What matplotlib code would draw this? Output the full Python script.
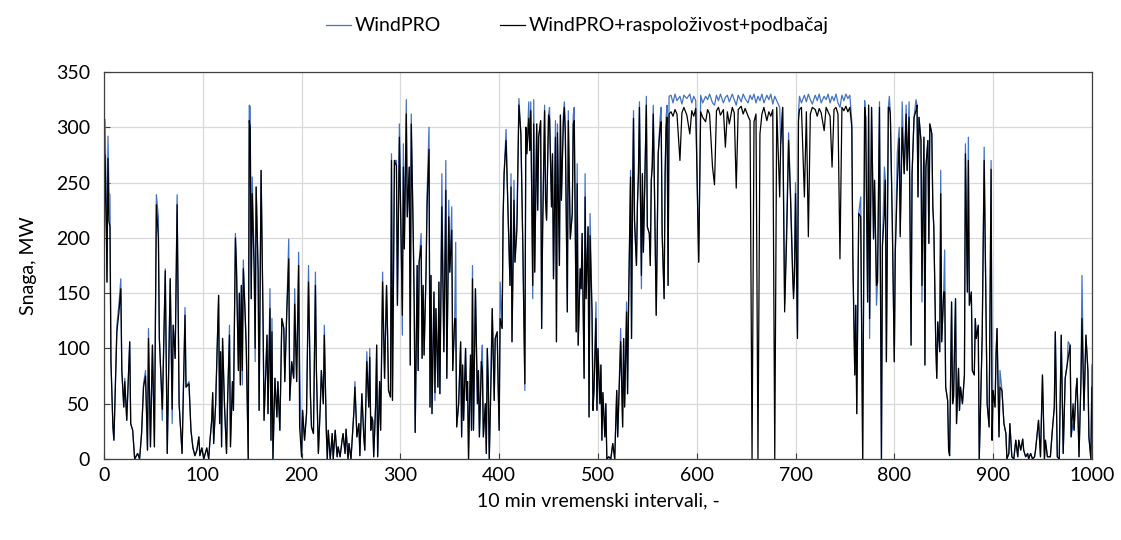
import matplotlib
matplotlib.use("Agg")
import matplotlib.pyplot as plt

# ------------------- DATA ------------------- #
# 10-min interval index
t = [
    # 0-99
    0, 1, 2, 3, 4, 5, 6, 7, 9, 10, 13, 15, 17, 18, 20, 21, 23, 26, 27, 29,
    31, 34, 36, 38, 40, 42, 44, 45, 47, 49, 51, 53, 55, 56, 58, 59, 62, 64, 67, 69,
    70, 72, 74, 76, 79, 82, 83, 86, 88, 90, 92, 94, 96, 97, 99,
    # 100-199
    101, 104, 106, 107, 109, 110, 111, 113, 116, 117, 118, 119, 120,
    122, 124, 125, 127, 128, 130, 131, 133, 134, 136, 137, 138, 139, 140, 141,
    143, 144, 146, 147, 148, 149, 150, 152, 153, 154, 156, 157, 159,
    161, 162, 165, 166, 168, 169, 170, 171, 173, 175, 176, 178, 180, 182, 183,
    185, 187, 188, 190, 192, 193, 195, 197, 198,
    # 200-299
    200, 201, 203, 205, 207, 209, 210, 212, 214, 215, 217, 219, 220, 222, 223,
    225, 226, 227, 229, 231, 232, 234, 236, 237, 239, 241, 242, 244, 245,
    247, 248, 250, 253, 254, 256, 258, 259, 261, 263, 264, 266, 268, 269, 270,
    271, 272, 273, 275, 276, 277, 279, 280, 282, 284, 286, 287, 288, 290, 291, 292,
    294, 296, 297, 299,
    # 300-400
    301, 302, 303, 304, 306, 307, 309, 310, 311, 313, 314, 315, 317, 318, 319,
    321, 322, 323, 324, 326, 327, 329, 330, 331, 332, 334, 335, 336, 338, 339, 340,
    342, 344, 345, 346, 347, 349, 350, 352, 353, 355, 356, 357, 359,
    361, 362, 363, 364, 366, 367, 368, 369, 371, 372, 373, 374, 376, 378, 379, 380,
    382, 383, 384, 386, 387, 388, 389, 390, 392, 393, 395, 396, 398, 399, 400,
    # 401-504
    401, 403, 404, 405, 407, 409, 411, 412, 413, 415, 416, 418, 420, 422, 424, 426,
    427, 428, 430, 431, 432, 434, 435, 436, 438, 439, 440, 442, 443, 444, 446, 447,
    448, 450, 451, 453, 454, 455, 457, 458, 459, 461, 462, 463, 465, 466, 467, 469,
    470, 472, 474, 475, 476, 478, 479, 480, 482, 483, 484, 486, 487, 488, 490, 491,
    492, 494, 495, 496, 498, 499, 500, 502, 503, 504,
    # 505-572
    505, 507, 508, 509, 511, 513, 515, 517, 519, 520, 521, 523, 525, 526, 527, 529,
    530, 531, 533, 534, 535, 536, 537, 539, 540, 541, 542, 544, 545, 546, 548, 549,
    550, 552, 553, 554, 555, 556, 557, 559, 560, 561, 563, 564, 565, 567, 568, 569,
    570, 571, 572,
    # 574-757 plateau
    574, 576, 578, 580, 583, 585, 587, 590, 593, 595, 597, 599, 602, 604, 606, 609,
    611, 613, 616, 618, 620, 622, 624, 627, 629, 631, 633, 636, 638, 640, 642, 645,
    647, 649, 652, 654, 656, 658, 660, 662, 664, 666, 668, 671, 673, 675, 677, 679,
    681, 684, 685, 687, 689, 691, 693, 695, 697, 698, 699, 700, 702, 703, 704, 706,
    709, 711, 713, 715, 717, 720, 722, 724, 726, 729, 731, 733, 735, 737, 739, 741,
    743, 745, 747, 749, 751, 753, 755, 757,
    # 758-806
    758, 760, 761, 762, 764, 766, 768, 770, 771, 773, 774, 775, 777, 779, 780, 782,
    783, 785, 787, 788, 790, 791, 792, 794, 795, 796, 798, 800, 801, 803, 805, 806,
    # 808-906
    808, 810, 812, 813, 815, 817, 818, 820, 822, 823, 824, 825, 827, 828, 830, 831,
    832, 834, 835, 836, 838, 839, 840, 842, 843, 844, 846, 847, 848, 850, 851, 852,
    854, 855, 856, 858, 859, 860, 862, 863, 865, 866, 867, 869, 871, 872, 874, 875,
    876, 878, 879, 881, 882, 883, 885, 886, 887, 889, 891, 893, 894, 896, 898, 899,
    900, 902, 903, 904, 906,
    # 907-1000
    907, 909, 911, 913, 914, 916, 917, 919, 921, 923, 925, 926, 928, 930, 931, 933,
    935, 936, 938, 940, 942, 943, 944, 946, 948, 950, 952, 953, 955, 958, 960, 962,
    963, 965, 967, 969, 971, 973, 975, 976, 978, 979, 981, 982, 984, 985, 987, 989,
    990, 992, 994, 996, 997, 999, 1000,
]

# WindPRO, MW
windpro = [
    200, 307, 250, 160, 292, 240, 239, 88, 29, 17, 121, 139, 163, 80, 47, 73, 35, 106, 32, 26,
    0, 5, 0, 23, 68, 80, 8, 118, 11, 103, 11, 239, 219, 109, 65, 35, 172, 5, 163, 32,
    121, 91, 239, 50, 5, 137, 65, 70, 26, 10, 3, 8, 20, 3, 10,

    0, 10, 0, 14, 35, 60, 14, 50, 148, 32, 97, 11, 109,
    47, 5, 50, 121, 11, 70, 44, 204, 180, 80, 150, 67, 157, 67, 180,
    127, 100, 0, 320, 319, 145, 255, 180, 88, 246, 169, 44, 261,
    124, 35, 112, 41, 154, 17, 127, 0, 73, 38, 70, 26, 127, 118, 70,
    133, 199, 53, 88, 73, 154, 70, 187, 91,

    2, 44, 17, 41, 175, 56, 29, 23, 169, 80, 5, 50, 80, 50, 121,
    26, 0, 26, 0, 23, 0, 26, 2, 11, 2, 17, 23, 5, 27,
    0, 14, 0, 44, 70, 20, 32, 3, 59, 20, 8, 97, 47, 100, 26,
    38, 35, 2, 50, 103, 2, 70, 26, 169, 73, 157, 115, 62, 56, 276, 53,
    270, 270, 139, 303,

    187, 112, 285, 190, 325, 219, 264, 85, 312, 204, 139, 24, 175, 80, 178,
    204, 91, 157, 94, 169, 240, 300, 47, 166, 41, 151, 53, 136, 65, 160, 59,
    258, 97, 169, 270, 73, 234, 169, 228, 80, 127, 196, 29, 50,
    106, 20, 85, 35, 100, 53, 70, 0, 94, 26, 175, 26, 154, 50, 80, 20,
    88, 103, 20, 50, 5, 100, 68, 0, 97, 136, 53, 109, 115, 65, 26,

    160, 118, 219, 258, 298, 222, 157, 258, 106, 252, 178, 219, 326, 294, 190, 62,
    300, 276, 323, 279, 323, 145, 325, 169, 303, 225, 291, 306, 118, 207, 320, 234,
    216, 311, 318, 228, 276, 163, 306, 106, 303, 175, 311, 234, 311, 323, 294, 133,
    315, 199, 222, 311, 318, 115, 267, 103, 172, 154, 204, 73, 258, 145, 210, 38,
    222, 133, 44, 62, 142, 44, 100, 50, 85, 17,

    60, 20, 50, 0, 2, 0, 14, 0, 62, 20, 50, 118, 29, 109, 47, 142,
    59, 139, 261, 109, 234, 315, 216, 175, 231, 258, 323, 154, 258, 187, 276, 328,
    210, 204, 175, 252, 270, 320, 258, 130, 199, 276, 309, 318, 204, 145, 258, 309,
    320, 157, 328,

    329, 322, 330, 324, 328, 321, 329, 326, 330, 322, 328, 324, 178, 329, 322, 328,
    325, 330, 322, 320, 329, 324, 330, 322, 327, 329, 323, 330, 325, 320, 329, 323,
    330, 326, 322, 329, 325, 330, 322, 328, 324, 330, 322, 329, 325, 330, 321, 328,
    324, 318, 285, 318, 140, 210, 295, 240, 175, 150, 175, 250, 115, 312, 328, 322,
    329, 323, 330, 325, 321, 329, 324, 330, 322, 328, 325, 330, 322, 328, 324, 330,
    322, 318, 329, 324, 330, 326, 329, 305,

    184, 76, 139, 41, 222, 237, 0, 324, 309, 142, 320, 109, 318, 199, 252, 139,
    160, 323, 0, 193, 264, 252, 88, 318, 328, 312, 213, 88, 187, 276, 300, 204,

    323, 258, 320, 261, 323, 103, 258, 309, 325, 320, 237, 309, 288, 142, 291, 85,
    264, 288, 195, 303, 294, 228, 210, 103, 73, 124, 97, 261, 106, 151, 189, 65,
    53, 8, 3, 142, 50, 56, 145, 32, 82, 44, 65, 50, 76, 285, 151, 291,
    139, 151, 80, 76, 127, 109, 121, 0, 35, 112, 282, 121, 50, 29, 270, 17,
    62, 47, 94, 118, 20,

    80, 62, 32, 23, 0, 5, 32, 2, 0, 17, 2, 17, 8, 18, 8, 2,
    5, 0, 5, 0, 2, 8, 17, 35, 2, 76, 0, 17, 2, 2, 26, 47,
    115, 2, 0, 112, 5, 73, 85, 106, 103, 20, 32, 26, 62, 73, 2, 73,
    166, 44, 112, 80, 20, 0, 85,
]

# WindPRO + availability + underperformance, MW
windpro_adj = [
    160, 275, 230, 160, 272, 215, 210, 88, 29, 17, 115, 132, 154, 80, 47, 70, 35, 106, 32, 26,
    0, 5, 0, 23, 65, 75, 8, 109, 11, 103, 11, 230, 200, 109, 65, 45, 170, 5, 163, 45,
    121, 91, 230, 50, 5, 130, 65, 68, 26, 10, 3, 8, 20, 3, 10,

    0, 10, 0, 14, 35, 60, 14, 50, 148, 32, 97, 11, 109,
    47, 5, 50, 112, 11, 70, 44, 200, 175, 80, 150, 67, 157, 80, 172,
    127, 100, 0, 306, 300, 145, 240, 170, 100, 246, 169, 44, 261,
    124, 35, 112, 41, 136, 17, 115, 0, 73, 38, 70, 26, 127, 118, 70,
    133, 181, 53, 88, 73, 140, 70, 175, 29,

    2, 44, 17, 41, 160, 56, 29, 23, 157, 80, 5, 50, 80, 50, 112,
    26, 0, 26, 0, 23, 0, 26, 2, 11, 2, 17, 23, 5, 27,
    0, 14, 0, 44, 65, 20, 32, 3, 59, 20, 8, 88, 47, 92, 26,
    38, 35, 2, 50, 103, 2, 70, 26, 160, 73, 157, 115, 62, 56, 270, 53,
    270, 265, 139, 291,

    187, 130, 264, 190, 312, 219, 264, 85, 303, 204, 139, 24, 175, 80, 178,
    193, 91, 157, 94, 169, 228, 280, 47, 166, 41, 151, 60, 136, 65, 160, 59,
    228, 97, 169, 243, 73, 219, 169, 207, 80, 127, 127, 29, 50,
    106, 20, 85, 35, 100, 53, 70, 0, 94, 26, 163, 26, 154, 50, 80, 20,
    88, 80, 20, 50, 5, 100, 68, 0, 80, 136, 53, 109, 115, 65, 26,

    127, 118, 219, 258, 288, 222, 157, 246, 106, 234, 178, 207, 320, 294, 190, 68,
    300, 276, 308, 279, 315, 157, 303, 169, 303, 225, 291, 306, 118, 207, 315, 234,
    216, 311, 308, 228, 276, 163, 291, 106, 295, 175, 311, 234, 305, 318, 294, 133,
    306, 199, 222, 303, 306, 115, 249, 103, 172, 154, 204, 73, 237, 145, 210, 38,
    202, 133, 44, 62, 127, 44, 100, 50, 85, 17,

    60, 20, 50, 0, 2, 0, 14, 0, 62, 20, 50, 106, 29, 109, 47, 133,
    59, 139, 255, 109, 234, 308, 216, 175, 231, 258, 318, 166, 258, 187, 276, 320,
    210, 204, 175, 252, 264, 312, 258, 130, 199, 276, 300, 305, 204, 145, 258, 300,
    309, 157, 312,

    314, 310, 316, 312, 270, 313, 318, 311, 294, 315, 310, 317, 178, 314, 309, 305,
    316, 312, 264, 248, 315, 318, 311, 316, 282, 314, 303, 318, 313, 245, 316, 319,
    312, 317, 310, 306, 0, 305, 312, 0, 294, 312, 318, 306, 314, 310, 316, 0,
    318, 237, 285, 318, 133, 199, 288, 234, 169, 145, 166, 240, 109, 306, 316, 318,
    237, 314, 201, 312, 318, 316, 310, 317, 313, 297, 318, 314, 310, 264, 316, 318,
    312, 181, 318, 315, 319, 314, 318, 300,

    184, 76, 139, 41, 222, 219, 0, 318, 309, 142, 320, 127, 318, 199, 252, 157,
    160, 318, 0, 193, 222, 252, 88, 318, 318, 312, 213, 88, 187, 246, 290, 201,

    300, 258, 312, 261, 309, 103, 258, 309, 315, 320, 237, 309, 288, 157, 291, 85,
    264, 288, 195, 303, 294, 228, 210, 103, 73, 124, 97, 240, 106, 151, 151, 65,
    53, 8, 3, 142, 50, 56, 145, 32, 82, 44, 65, 50, 76, 276, 151, 270,
    139, 151, 80, 76, 127, 109, 121, 0, 35, 112, 270, 121, 50, 29, 262, 17,
    62, 47, 94, 118, 20,

    65, 62, 32, 23, 0, 5, 32, 2, 0, 17, 2, 17, 8, 18, 8, 2,
    5, 0, 5, 0, 2, 8, 17, 35, 2, 76, 0, 17, 2, 2, 26, 47,
    115, 2, 0, 112, 5, 73, 85, 91, 103, 20, 50, 26, 62, 73, 2, 73,
    127, 44, 112, 80, 20, 0, 65,
]

x_ticks = list(range(0, 1001, 100))
y_ticks = list(range(0, 351, 50))

# ------------------- PLOT ------------------- #
plt.rcParams["font.family"] = ["Lato", "DejaVu Sans"]

fig = plt.figure(figsize=(11.21, 5.40), dpi=100)
ax = fig.add_axes([0.0928, 0.15, 0.8812, 0.7167])

ax.plot(t, windpro, color="#4472C4", lw=0.9, label="WindPRO")
ax.plot(t, windpro_adj, color="#000000", lw=0.9, label="WindPRO+raspoloživost+podbačaj")

ax.set_xlim(0, 1000)
ax.set_ylim(0, 350)
ax.set_xticks(x_ticks)
ax.set_yticks(y_ticks)
ax.grid(True, color="#d9d9d9", lw=0.9)
ax.set_axisbelow(True)
ax.tick_params(direction="in", labelsize=14, length=4, color="#404040")
ax.tick_params(axis="y", pad=10)
ax.tick_params(axis="x", pad=6)
for s in ax.spines.values():
    s.set_color("#404040")
    s.set_linewidth(0.9)

ax.set_xlabel("10 min vremenski intervali, -", fontsize=14, labelpad=6)
ax.set_ylabel("Snaga, MW", fontsize=14, labelpad=14)

fig.legend(loc="upper center", bbox_to_anchor=(0.515, 1.0), ncol=2, frameon=False,
           fontsize=14, handlelength=1.3, handletextpad=0.2, columnspacing=3.0)

fig.savefig("out.png", dpi=100)
